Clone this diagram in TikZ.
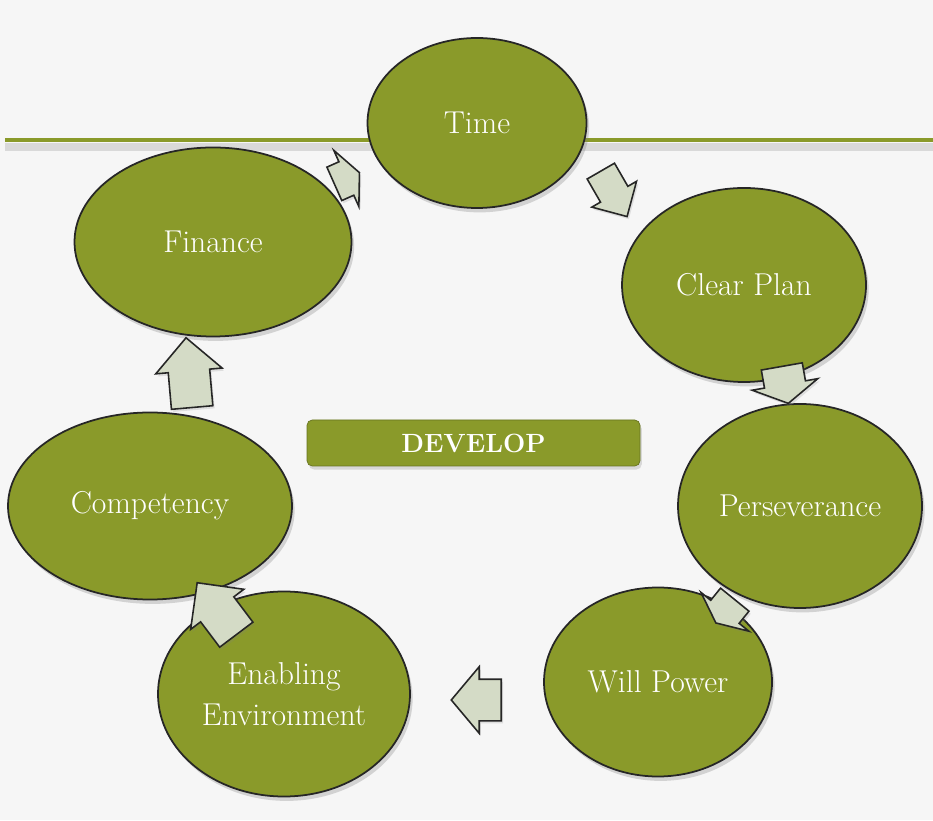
\documentclass[tikz,border=0pt]{standalone}
\usepackage{tikz}
\usetikzlibrary{shapes.geometric,shapes.arrows,shadows}
\definecolor{leafgreen}{RGB}{138,154,42}
\definecolor{sage}{RGB}{212,219,198}
\definecolor{paper}{RGB}{246,246,246}

\begin{document}
\begin{tikzpicture}[
		stage/.style={ellipse,draw=black!85,line width=1pt,fill=leafgreen,text=white,
			inner sep=0pt,align=center,font=\fontsize{18}{23}\selectfont,
			drop shadow={opacity=0.3,shadow xshift=1.5pt,shadow yshift=-2.5pt}},
		flow/.style={single arrow,draw=black!85,line width=0.9pt,fill=sage,
			inner xsep=0pt,inner ysep=0.4cm,single arrow head extend=0.25cm,
			drop shadow={opacity=0.2,shadow xshift=1pt,shadow yshift=-1.5pt}},
		banner/.style={rectangle,rounded corners=3pt,fill=leafgreen,draw=leafgreen!75!black,
			text=white,font=\fontsize{15}{18}\selectfont\bfseries,
			drop shadow={opacity=0.25,shadow xshift=1pt,shadow yshift=-2pt}}]

		\fill[paper] (0,0) rectangle (18.66,16.4);
		\useasboundingbox (0,0) rectangle (18.66,16.4);

		\draw[black!15,line width=5pt] (0.1,13.46) -- (18.66,13.46);
		\draw[leafgreen,line width=2pt] (0.1,13.6) -- (18.66,13.6);

		\node[stage,minimum width=4.38cm,minimum height=3.4cm]  (time) at (9.54,13.94) {Time};
		\node[stage,minimum width=4.88cm,minimum height=3.88cm] (plan) at (14.88,10.70) {Clear Plan};
		\node[stage,minimum width=4.88cm,minimum height=4.08cm] (pers) at (16.0,6.28) {Perseverance};
		\node[stage,minimum width=4.56cm,minimum height=3.78cm] (will) at (13.16,2.76) {Will Power};
		\node[stage,minimum width=5.04cm,minimum height=4.1cm]  (env)  at (5.68,2.52) {Enabling\\Environment};
		\node[stage,minimum width=5.68cm,minimum height=3.74cm] (comp) at (3.0,6.28) {Competency};
		\node[stage,minimum width=5.54cm,minimum height=3.78cm] (fin)  at (4.26,11.56) {Finance};

		\node[flow,rotate=-60,minimum height=1.05cm,inner ysep=0.3cm,single arrow head extend=0.2cm] (a1) at (12.2,12.66) {};
		\node[flow,rotate=-80,minimum height=0.75cm,single arrow tip angle=120] (a2) at (15.68,8.82) {};
		\node[flow,rotate=-129,minimum height=0.6cm,inner ysep=0.35cm,single arrow tip angle=130] (a3) at (14.56,4.24) {};
		\node[flow,rotate=180,minimum height=1.0cm,single arrow tip angle=100] (a4) at (9.7,2.4) {};
		\node[flow,rotate=127,minimum height=1.3cm] (a5) at (4.46,4.06) {};
		\node[flow,rotate=95,minimum height=1.4cm] (a6) at (3.8,8.74) {};
		\node[flow,rotate=24,minimum height=0.55cm,inner ysep=0.35cm,single arrow tip angle=130] (a7) at (6.86,12.8) {};

		\node[banner,minimum width=6.66cm,minimum height=0.92cm] (develop) at (9.47,7.54) {DEVELOP};

\end{tikzpicture}
\end{document}
